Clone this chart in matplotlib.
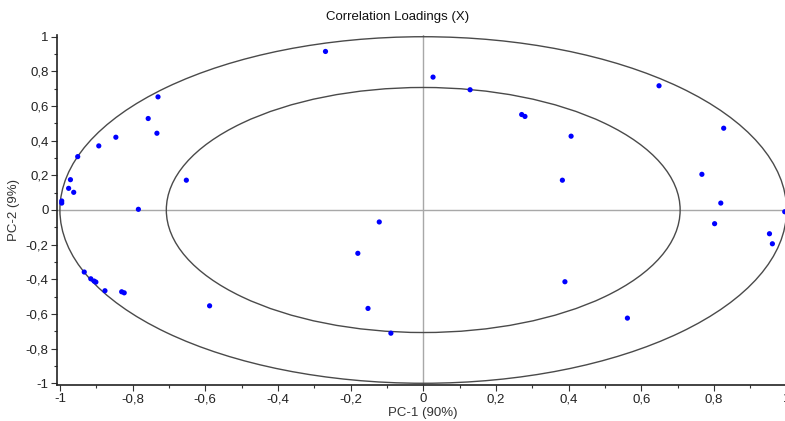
import numpy as np
import matplotlib.pyplot as plt
from matplotlib.patches import Ellipse
from matplotlib.ticker import MultipleLocator, FuncFormatter

plt.rcParams['font.family'] = ['Liberation Sans', 'DejaVu Sans']

# loadings on the first two components
pc1 = [-0.269, -0.730, -0.757, -0.733, -0.846, -0.893, -0.951, -0.971, -0.976, -0.962,
       -0.995, -0.995, -0.784, -0.652, 0.027, 0.129, 0.271, 0.280, 0.407, 0.383,
       0.649, 0.827, 0.767, 0.819, 0.995, -0.121, -0.180, -0.152, -0.089, -0.588,
       -0.933, -0.915, -0.906, -0.901, -0.876, -0.830, -0.823, 0.390, 0.562, 0.802,
       0.953, 0.961]
pc2 = [0.915, 0.653, 0.528, 0.443, 0.420, 0.370, 0.308, 0.175, 0.125, 0.102,
       0.052, 0.040, 0.004, 0.172, 0.767, 0.694, 0.551, 0.540, 0.426, 0.172,
       0.717, 0.472, 0.206, 0.040, -0.010, -0.069, -0.250, -0.568, -0.711, -0.553,
       -0.358, -0.397, -0.410, -0.416, -0.466, -0.472, -0.478, -0.414, -0.624, -0.079,
       -0.137, -0.195]

title = 'Correlation Loadings (X)'
xlabel = 'PC-1 (90%)'
ylabel = 'PC-2 (9%)'

fig = plt.figure(figsize=(7.85, 4.21), dpi=100)
ax = fig.add_axes([57 / 785, 36 / 421, 731 / 785, 350 / 421])

ax.axhline(0, color='#a8a8a8', lw=1, zorder=1)
ax.axvline(0, color='#a8a8a8', lw=1, zorder=1)

# 100% and 50% explained variance circles
for r in (1.0, np.sqrt(0.5)):
    ax.add_patch(Ellipse((0, 0), 2 * r, 2 * r, fill=False, ec='#4a4a4a', lw=1, zorder=2))

ax.scatter(pc1, pc2, s=14, color='#0000ff', edgecolors='none', zorder=3, clip_on=False)

ax.set_xlim(-1.008, 1.004)
ax.set_ylim(-1.01, 1.01)
ax.xaxis.set_major_locator(MultipleLocator(0.2))
ax.yaxis.set_major_locator(MultipleLocator(0.2))
ax.xaxis.set_minor_locator(MultipleLocator(0.1))
ax.yaxis.set_minor_locator(MultipleLocator(0.1))


def comma(v, pos):
    if abs(v) < 1e-9:
        return '0'
    s = ('%.1f' % v).rstrip('0').rstrip('.')
    return s.replace('.', ',')


ax.xaxis.set_major_formatter(FuncFormatter(comma))
ax.yaxis.set_major_formatter(FuncFormatter(comma))

for side in ('top', 'right'):
    ax.spines[side].set_visible(False)
for side in ('left', 'bottom'):
    ax.spines[side].set_color('#222222')
    ax.spines[side].set_linewidth(1.2)

ax.tick_params(which='major', length=4, width=0.8, color='#333333', labelsize=9.5,
               labelcolor='#222222', pad=2)
ax.tick_params(which='minor', length=2.5, width=0.8, color='#333333')

ax.set_xlabel(xlabel, fontsize=9.5, color='#333333', labelpad=1)
ax.set_ylabel(ylabel, fontsize=9.5, color='#333333', labelpad=4)
fig.text(398 / 785, 1 - 17 / 421, title, ha='center', va='center', fontsize=9.5, color='#111111')

fig.savefig('out.png', dpi=100)
